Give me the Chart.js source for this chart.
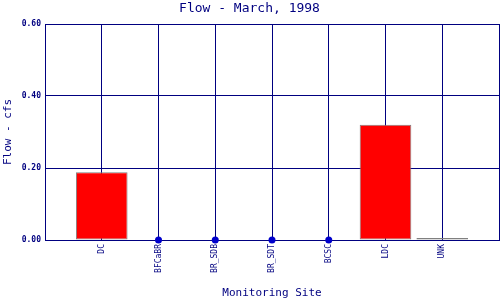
<!DOCTYPE html>
<html>
<head>
<meta charset="utf-8">
<script src="https://cdn.jsdelivr.net/npm/chart.js@4/dist/chart.umd.min.js"></script>
<style>
  html, body { margin: 0; padding: 0; background: #fff; }
  canvas { display: block; }
</style>
</head>
<body>
<canvas id="myChart" width="500" height="300"></canvas>
<script>
// sites, with an empty slot at each end so grid lines fall on the plot edges
var sites = ['', 'DC', 'BFCaBR', 'BR_SDB', 'BR_SDT', 'BCSC', 'LDC', 'UNK', ''];
var flowBars = [null, 0.188, null, null, null, null, 0.32, 0, null];
var noFlowPoints = [null, null, 0, 0, 0, 0, null, null, null];
var yTicks = [0, 0.2, 0.4, 0.6];

var navy = '#000080';
var mono = '"DejaVu Sans Mono", "Liberation Mono", monospace';

var ctx = document.getElementById('myChart');
var chart = new Chart(ctx, {
    data: {
        labels: sites,
        datasets: [{
            type: 'line',
            data: noFlowPoints,
            showLine: false,
            clip: false,
            pointRadius: 3.5,
            pointBackgroundColor: '#0000CC',
            pointBorderColor: '#0000CC',
            pointBorderWidth: 0
        }, {
            type: 'bar',
            data: flowBars,
            backgroundColor: '#FF0000',
            borderColor: '#808080',
            borderWidth: 1,
            borderSkipped: false,
            minBarLength: 2,
            categoryPercentage: 1,
            barPercentage: 0.91
        }]
    },
    options: {
        responsive: false,
        animation: false,
        //no auto padding for the points, keep the plot edge at the right
        layout: { autoPadding: false, padding: { left: 0, right: 1, top: 0, bottom: 0 } },
        plugins: {
            legend: { display: false },
            tooltip: { enabled: false },
            title: {
                display: true,
                text: 'Flow - March, 1998',
                color: navy,
                font: { family: mono, size: 13, weight: 'normal' },
                padding: { top: 1, bottom: 7.4 }
            }
        },
        scales: {
            x: {
                type: 'category',
                offset: false,
                grid: { color: navy, lineWidth: 1, drawTicks: false, offset: false },
                border: { color: navy, width: 1 },
                ticks: {
                    color: navy,
                    font: { family: mono, size: 8 },
                    minRotation: 90,
                    maxRotation: 90,
                    autoSkip: false,
                    padding: 4
                },
                title: {
                    display: true,
                    text: 'Monitoring Site',
                    color: navy,
                    font: { family: mono, size: 11 },
                    padding: 0
                },
                afterFit: function(scale){
                    scale.height = 60;
                    scale.paddingLeft = 0;
                    scale.paddingRight = 0;
                }
            },
            y: {
                min: 0,
                max: 0.6,
                afterBuildTicks: function(scale){
                    scale.ticks = yTicks.map(function(v){ return { value: v }; });
                },
                grid: { color: navy, lineWidth: 1, drawTicks: false },
                border: { color: navy, width: 1 },
                ticks: {
                    color: navy,
                    font: { family: mono, size: 8, weight: 'bold' },
                    padding: 4,
                    callback: function(v){ return Number(v).toFixed(2); }
                },
                title: {
                    display: true,
                    text: 'Flow - cfs',
                    color: navy,
                    font: { family: mono, size: 11 },
                    padding: { top: 2, bottom: 0 }
                },
                afterFit: function(scale){
                    scale.width = 45;
                    scale.paddingTop = 0;
                    scale.paddingBottom = 0;
                }
            }
        }
    }
});
</script>
</body>
</html>
